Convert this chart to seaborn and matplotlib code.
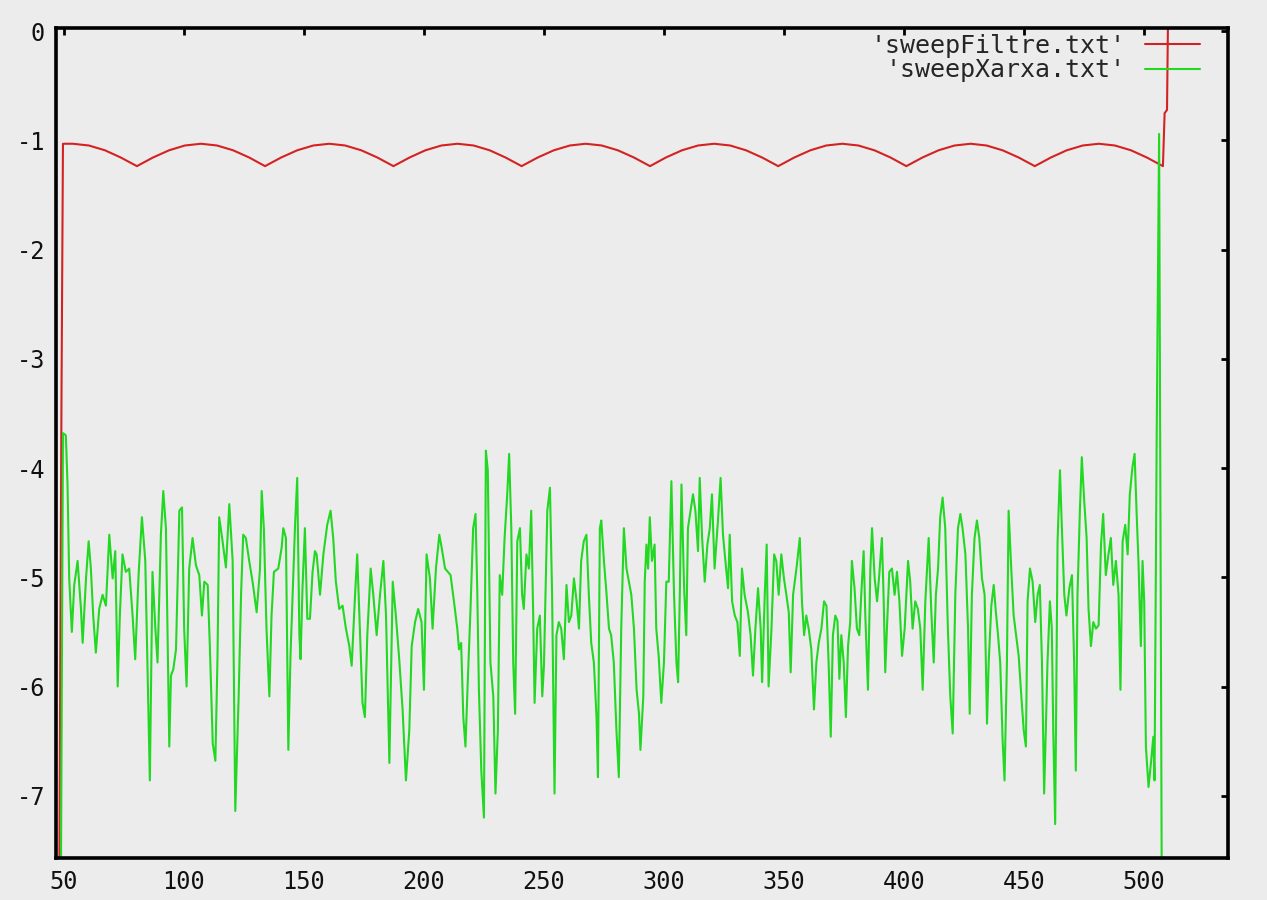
import matplotlib
matplotlib.use("Agg")
import matplotlib.pyplot as plt
import pandas as pd
import seaborn as sns

# ---- data -------------------------------------------------------------
filtre_x = [47.8, 49.0, 49.6, 53.7,
            60.4, 67.1, 73.7, 80.4, 87.1, 93.8, 100.4, 107.1,
            113.8, 120.5, 127.2, 133.8, 140.5, 147.2, 153.9, 160.6,
            167.2, 173.9, 180.6, 187.3, 194.0, 200.6, 207.3, 214.0,
            220.7, 227.4, 234.0, 240.7, 247.4, 254.1, 260.8, 267.4,
            274.1, 280.8, 287.5, 294.2, 300.8, 307.5, 314.2, 320.9,
            327.6, 334.2, 340.9, 347.6, 354.3, 361.0, 367.6, 374.3,
            381.0, 387.7, 394.4, 401.0, 407.7, 414.4, 421.1, 427.8,
            434.4, 441.1, 447.8, 454.5, 461.2, 467.8, 474.5, 481.2,
            487.9, 494.6, 501.2, 507.9,
            508.6, 509.6, 510.2]
filtre_y = [-9.0, -3.3, -1.03, -1.03,
            -1.046, -1.09, -1.156, -1.235, -1.156, -1.09, -1.046, -1.03,
            -1.046, -1.09, -1.156, -1.235, -1.156, -1.09, -1.046, -1.03,
            -1.046, -1.09, -1.156, -1.235, -1.156, -1.09, -1.046, -1.03,
            -1.046, -1.09, -1.156, -1.235, -1.156, -1.09, -1.046, -1.03,
            -1.046, -1.09, -1.156, -1.235, -1.156, -1.09, -1.046, -1.03,
            -1.046, -1.09, -1.156, -1.235, -1.156, -1.09, -1.046, -1.03,
            -1.046, -1.09, -1.156, -1.235, -1.156, -1.09, -1.046, -1.03,
            -1.046, -1.09, -1.156, -1.235, -1.156, -1.09, -1.046, -1.03,
            -1.046, -1.09, -1.156, -1.235,
            -0.75, -0.72, 0.5]

xarxa_x = [48.5, 49.6, 50.8, 51.5, 52.2, 53.3, 54.3, 55.7, 57.1, 57.8,
           59.2, 60.3, 61.2, 62.2, 63.3, 64.7, 66.1, 67.5, 68.9, 70.3,
           71.4, 72.4, 73.3, 74.4, 75.8, 77.2, 78.6, 79.7, 81.1, 82.5,
           83.9, 84.9, 85.8, 86.9, 88.1, 89.0, 90.4, 91.4, 92.5, 93.9,
           94.6, 95.6, 96.7, 98.1, 99.2, 100.1, 101.1, 102.2, 103.6, 105.0,
           106.4, 107.5, 108.5, 109.9, 110.8, 112.0, 113.1, 114.0, 114.7, 116.1,
           117.5, 118.9, 120.3, 121.4, 122.8, 123.8, 124.7, 125.8, 127.2, 128.6,
           130.3, 131.7, 132.4, 133.3, 134.4, 135.6, 136.5, 137.5, 139.3, 140.7,
           141.4, 142.5, 143.5, 144.4, 145.3, 146.3, 147.2, 148.1, 148.6, 149.4,
           150.4, 151.4, 152.5, 153.6, 154.6, 155.3, 156.7, 158.1, 159.7, 161.1,
           162.2, 163.3, 164.7, 166.1, 167.5, 168.9, 169.9, 171.3, 172.2, 173.3,
           174.4, 175.4, 176.4, 177.8, 178.9, 180.3, 181.7, 183.1, 184.2, 185.6,
           187.0, 188.3, 189.7, 191.1, 192.5, 193.9, 194.9, 196.3, 197.6, 199.0,
           200.0, 201.1, 202.5, 203.6, 205.0, 206.4, 207.4, 208.8, 211.1, 212.5,
           213.9, 214.6, 215.5, 216.4, 217.3, 218.3, 219.4, 220.5, 221.5, 222.2,
           222.9, 223.9, 225.0, 225.8, 226.6, 227.7, 228.9, 229.8, 230.8, 231.6,
           232.6, 233.6, 234.7, 235.5, 236.4, 237.2, 238.0, 238.9, 240.0, 240.9,
           241.6, 242.7, 243.7, 244.7, 245.5, 246.1, 247.2, 248.3, 249.3, 250.0,
           251.4, 252.5, 253.4, 254.4, 255.2, 256.2, 257.2, 258.3, 259.4, 260.4,
           261.4, 262.5, 263.6, 264.6, 265.5, 266.6, 267.7, 268.7, 269.7, 270.8,
           271.9, 272.5, 273.3, 273.9, 275.0, 276.1, 277.1, 278.0, 279.1, 280.2,
           281.2, 282.2, 283.3, 284.4, 285.4, 286.4, 287.5, 288.6, 289.6, 290.2,
           291.4, 292.0, 292.7, 293.4, 294.1, 295.0, 296.1, 296.8, 297.8, 298.9,
           300.0, 301.0, 302.0, 303.1, 304.2, 305.2, 305.9, 306.6, 307.3, 308.4,
           309.3, 310.0, 311.1, 312.1, 313.1, 314.2, 314.9, 315.9, 317.0, 318.1,
           319.1, 320.0, 321.1, 322.5, 323.6, 324.6, 325.6, 326.7, 327.4, 328.4,
           329.5, 330.6, 331.6, 332.5, 333.6, 335.0, 336.1, 337.1, 338.1, 339.2,
           340.3, 340.9, 342.0, 342.8, 343.6, 344.8, 345.9, 346.8, 347.8, 348.9,
           350.0, 351.0, 352.0, 352.8, 353.8, 355.2, 356.6, 357.5, 358.4, 359.3,
           360.3, 361.4, 362.5, 363.5, 364.5, 365.6, 366.7, 367.7, 368.6, 369.5,
           370.4, 371.4, 372.3, 373.1, 373.9, 374.9, 375.8, 376.7, 377.6, 378.3,
           379.4, 380.4, 381.4, 382.2, 383.2, 383.9, 385.0, 386.0, 386.7, 387.8,
           388.8, 389.7, 390.8, 391.5, 392.2, 392.9, 393.9, 395.0, 396.1, 397.1,
           398.1, 399.2, 400.3, 401.7, 402.6, 403.6, 404.7, 405.8, 406.8, 407.8,
           408.9, 410.3, 411.4, 412.4, 413.3, 414.2, 415.1, 416.1, 417.2, 418.3,
           419.3, 420.3, 421.4, 422.5, 423.5, 424.4, 425.6, 426.7, 427.4, 428.3,
           429.4, 430.4, 431.4, 432.5, 433.6, 434.6, 435.3, 436.4, 437.4, 438.3,
           439.2, 440.1, 441.1, 441.9, 442.9, 443.6, 444.7, 445.7, 446.7, 447.8,
           448.9, 449.9, 450.8, 451.5, 452.5, 453.6, 454.7, 455.7, 456.6, 457.5,
           458.4, 459.1, 459.8, 460.8, 461.6, 462.2, 463.0, 464.0, 465.0, 465.8,
           466.8, 467.7, 468.9, 470.0, 470.9, 471.6, 472.3, 473.3, 474.1, 475.1,
           476.1, 476.9, 477.9, 478.9, 480.0, 481.1, 482.1, 483.0, 484.1, 485.2,
           486.2, 487.2, 488.3, 489.4, 490.2, 491.1, 492.2, 493.2, 494.1, 495.2,
           496.1, 496.9, 497.7, 498.7, 499.4, 500.1, 500.8, 501.9, 502.9, 503.9,
           504.4, 505.3, 506.3, 507.6]
xarxa_y = [-9.0, -3.68, -3.70, -4.15, -5.01, -5.50, -5.07, -4.85, -5.29, -5.60,
           -5.01, -4.67, -4.91, -5.35, -5.69, -5.29, -5.16, -5.26, -4.61, -5.01,
           -4.76, -6.00, -5.35, -4.79, -4.95, -4.92, -5.35, -5.75, -4.98, -4.45,
           -4.85, -5.93, -6.86, -4.95, -5.47, -5.78, -4.61, -4.21, -4.55, -6.55,
           -5.90, -5.84, -5.66, -4.39, -4.36, -5.47, -6.00, -4.92, -4.64, -4.89,
           -4.98, -5.35, -5.04, -5.07, -5.63, -6.52, -6.68, -5.72, -4.45, -4.67,
           -4.91, -4.33, -4.85, -7.14, -6.09, -5.16, -4.61, -4.64, -4.85, -5.04,
           -5.32, -4.92, -4.21, -4.55, -5.47, -6.09, -5.35, -4.95, -4.92, -4.73,
           -4.55, -4.64, -6.58, -5.72, -5.16, -4.52, -4.09, -5.53, -5.75, -5.10,
           -4.55, -5.38, -5.38, -4.95, -4.76, -4.79, -5.16, -4.79, -4.52, -4.39,
           -4.64, -5.04, -5.29, -5.26, -5.47, -5.63, -5.81, -5.16, -4.79, -5.47,
           -6.15, -6.28, -5.53, -4.92, -5.16, -5.53, -5.16, -4.85, -5.35, -6.70,
           -5.04, -5.35, -5.75, -6.21, -6.86, -6.40, -5.63, -5.41, -5.29, -5.41,
           -6.03, -4.79, -5.01, -5.47, -4.92, -4.61, -4.73, -4.92, -4.98, -5.22,
           -5.47, -5.66, -5.60, -6.28, -6.55, -5.93, -5.29, -4.55, -4.42, -5.10,
           -6.03, -6.77, -7.20, -3.84, -4.02, -5.78, -6.09, -6.98, -6.40, -4.98,
           -5.16, -4.64, -4.24, -3.87, -4.55, -5.78, -6.25, -4.67, -4.55, -5.16,
           -5.29, -4.79, -4.92, -4.39, -5.32, -6.15, -5.47, -5.35, -6.09, -5.81,
           -4.39, -4.18, -5.16, -6.98, -5.53, -5.41, -5.47, -5.75, -5.07, -5.41,
           -5.35, -5.01, -5.22, -5.47, -4.85, -4.67, -4.61, -5.16, -5.60, -5.78,
           -6.28, -6.83, -4.55, -4.48, -4.85, -5.16, -5.47, -5.53, -5.78, -6.40,
           -6.83, -5.47, -4.55, -4.92, -5.04, -5.16, -5.47, -6.03, -6.25, -6.58,
           -6.09, -5.04, -4.70, -4.92, -4.45, -4.85, -4.70, -5.47, -5.72, -6.15,
           -5.78, -5.04, -5.04, -4.12, -5.16, -5.78, -5.96, -5.16, -4.15, -5.10,
           -5.53, -4.55, -4.39, -4.24, -4.39, -4.76, -4.09, -4.64, -5.04, -4.70,
           -4.55, -4.24, -4.92, -4.48, -4.09, -4.61, -4.85, -5.10, -4.61, -5.22,
           -5.35, -5.41, -5.72, -4.92, -5.16, -5.32, -5.53, -5.90, -5.47, -5.10,
           -5.47, -5.96, -5.16, -4.70, -6.00, -5.47, -4.79, -4.85, -5.16, -4.79,
           -5.01, -5.16, -5.32, -5.87, -5.16, -4.92, -4.64, -5.22, -5.53, -5.35,
           -5.47, -5.66, -6.21, -5.78, -5.60, -5.47, -5.22, -5.26, -5.78, -6.46,
           -5.53, -5.35, -5.40, -5.93, -5.53, -5.78, -6.28, -5.63, -5.41, -4.85,
           -5.10, -5.47, -5.53, -5.16, -4.76, -5.35, -6.03, -4.92, -4.55, -5.01,
           -5.22, -4.98, -4.64, -5.16, -5.87, -5.47, -4.95, -4.92, -5.16, -4.95,
           -5.22, -5.72, -5.47, -4.85, -5.04, -5.47, -5.22, -5.29, -5.47, -6.03,
           -5.22, -4.64, -5.32, -5.78, -5.16, -4.92, -4.45, -4.27, -4.55, -5.47,
           -6.09, -6.43, -5.16, -4.55, -4.42, -4.55, -4.79, -5.47, -6.25, -5.16,
           -4.64, -4.48, -4.64, -5.01, -5.16, -6.34, -5.78, -5.26, -5.07, -5.32,
           -5.53, -5.78, -6.49, -6.86, -5.78, -4.39, -4.92, -5.35, -5.53, -5.72,
           -6.09, -6.40, -6.55, -5.22, -4.92, -5.04, -5.41, -5.16, -5.07, -5.78,
           -6.98, -6.40, -5.78, -5.22, -5.47, -6.40, -7.26, -4.67, -4.02, -4.55,
           -5.16, -5.35, -5.10, -4.98, -5.78, -6.77, -5.16, -4.39, -3.90, -4.30,
           -4.64, -5.29, -5.63, -5.41, -5.47, -5.44, -4.70, -4.42, -4.98, -4.79,
           -4.64, -5.07, -4.85, -5.16, -6.03, -4.67, -4.52, -4.79, -4.24, -3.99,
           -3.87, -4.39, -4.85, -5.63, -4.85, -5.22, -6.55, -6.92, -6.70, -6.46,
           -6.86, -3.70, -0.94, -9.0]

series_labels = ["'sweepFiltre.txt'", "'sweepXarxa.txt'"]
series_colors = ["#d42222", "#22d822"]
x_ticks = [50, 100, 150, 200, 250, 300, 350, 400, 450, 500]
y_ticks = [0, -1, -2, -3, -4, -5, -6, -7]

# ---- style ------------------------------------------------------------
bg = "#ececec"
sns.set_theme(style="white", rc={"figure.facecolor": bg, "axes.facecolor": bg})
plt.rcParams["font.family"] = ["DejaVu Sans Mono", "DejaVu Sans"]
plt.rcParams["axes.unicode_minus"] = False

fig = plt.figure(figsize=(12.67, 9), dpi=100)
ax = fig.add_axes([0.0442, 0.0467, 0.925, 0.9222])

frame = pd.concat([
    pd.DataFrame({"x": filtre_x, "y": filtre_y, "serie": series_labels[0]}),
    pd.DataFrame({"x": xarxa_x, "y": xarxa_y, "serie": series_labels[1]}),
], ignore_index=True)

sns.lineplot(data=frame, x="x", y="y", hue="serie", hue_order=series_labels,
             palette=series_colors, estimator=None, sort=False,
             linewidth=1.5, ax=ax)

ax.set_xlim(46.7, 535)
ax.set_ylim(-7.57, 0.03)
ax.set_xticks(x_ticks)
ax.set_yticks(y_ticks)
ax.set_xticklabels([str(v) for v in x_ticks])
ax.set_yticklabels([str(v) for v in y_ticks])
ax.set_xlabel("")
ax.set_ylabel("")

for side in ["left", "right", "top", "bottom"]:
    ax.spines[side].set_visible(True)
    ax.spines[side].set_color("black")
    ax.spines[side].set_linewidth(2.6)

ax.tick_params(axis="both", which="major", direction="in", length=5, width=2,
               color="black", labelsize=17, labelcolor="#111111",
               top=True, right=True)
ax.tick_params(axis="x", pad=9)
ax.tick_params(axis="y", pad=8)

handles, labels = ax.get_legend_handles_labels()
ax.legend(handles, labels, loc="upper right",
          bbox_to_anchor=(0.9804, 0.999), borderaxespad=0,
          frameon=False, markerfirst=False, prop={"size": 18},
          handlelength=2.2, handletextpad=0.8, labelspacing=0.02,
          borderpad=0.2)

fig.savefig("out.png", dpi=100, facecolor=bg)
